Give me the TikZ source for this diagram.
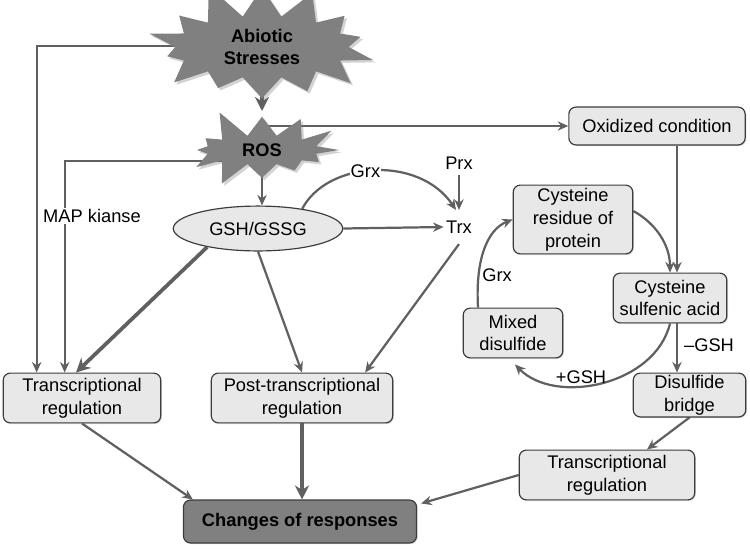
\documentclass[tikz,border=0pt]{standalone}
\usepackage{fontspec}
\setmainfont{Liberation Sans}
\usetikzlibrary{arrows.meta, shapes.symbols, shapes.geometric, shadows, backgrounds}

\definecolor{linegray}{RGB}{96,96,96}
\definecolor{boxfill}{RGB}{232,232,232}
\definecolor{boxdraw}{RGB}{60,60,60}
\definecolor{darkfill}{RGB}{128,128,128}

\begin{document}
\begin{tikzpicture}[x=0.03cm, y=-0.03cm,
	>={Stealth[length=9pt, width=8pt]},
	font=\fontsize{15.6}{19.5}\selectfont,
	box/.style={draw=boxdraw, line width=1pt, fill=boxfill, rounded corners=6pt,
		align=center, inner sep=1pt,
		drop shadow={opacity=0.3, shadow xshift=1pt, shadow yshift=-1pt}},
	burst/.style={starburst, fill=darkfill, align=center,
		font=\fontsize{15.6}{19.5}\selectfont\bfseries,
		drop shadow={opacity=0.35, shadow xshift=2pt, shadow yshift=-2pt}},
	link/.style={draw=linegray, line width=1.9pt, ->},
	biglink/.style={draw=linegray, line width=3.2pt, -{Stealth[length=12pt, width=12pt]}},
	lbl/.style={inner sep=1pt}
]
	\useasboundingbox (0,0) rectangle (750,549);

	% stresses and signals
	\node[burst, starburst points=14, starburst point height=32pt, random starburst=11,
		minimum width=212pt, minimum height=82pt] (abiotic) at (262,47) {Abiotic\\Stresses};
	\node[burst, starburst points=12, starburst point height=26pt, random starburst=5,
		minimum width=148pt, minimum height=68pt] (ros) at (262,150) {ROS};

	\node[ellipse, draw=boxdraw, line width=1pt, fill=boxfill,
		minimum width=144.6pt, minimum height=38.3pt] (gsh) at (258,228.5) {GSH/GSSG};
	\node[inner xsep=2pt, inner ysep=9pt] (trx) at (459,227) {Trx};
	\node[inner xsep=2pt, inner ysep=5pt] (prx) at (459,163) {Prx};
	\node[lbl, fill=white] (mapk) at (92,216) {MAP kianse};

	% regulation boxes
	\node[box, minimum width=134.4pt, minimum height=42.5pt] (tr1) at (82,398) {Transcriptional\\regulation};
	\node[box, minimum width=154.8pt, minimum height=42.5pt] (post) at (302,398) {Post-transcriptional\\regulation};
	\node[box, minimum width=149.7pt, minimum height=42.5pt] (tr2) at (607,475) {Transcriptional\\regulation};
	\node[box, fill=darkfill, font=\fontsize{15.6}{19.5}\selectfont\bfseries,
		minimum width=199pt, minimum height=36.6pt] (changes) at (300,521.5) {Changes of responses};

	% cysteine cycle
	\node[box, minimum width=150.5pt, minimum height=32.3pt] (oxid) at (657,126) {Oxidized condition};
	\node[box, minimum width=102pt, minimum height=58.7pt] (cysres) at (573,219.5) {Cysteine\\residue of\\protein};
	\node[box, minimum width=97pt, minimum height=42.5pt] (sulfenic) at (670,298) {Cysteine\\sulfenic acid};
	\node[box, minimum width=85pt, minimum height=42.5pt] (mixed) at (513,333) {Mixed\\disulfide};
	\node[box, minimum width=96pt, minimum height=37.4pt] (disulf) at (689.5,395) {Disulfide\\bridge};

	\node[lbl] (grxB) at (497,275) {Grx};
	\node[lbl] (pgsh) at (581,377) {+GSH};
	\node[lbl] (mgsh) at (709,345) {–GSH};

	\begin{scope}[on background layer]
		\draw[link] ([shift={(0,-1)}]abiotic.center) -| ([shift={(34,0)}]tr1.north west);
		\draw[link] ([shift={(0,11)}]ros.center) -| ([shift={(62,0)}]tr1.north west);
		\draw[biglink] (abiotic.center) -- ([shift={(0,-39)}]ros.center);
		\draw[link] (ros.center |- oxid.west) -- (oxid.west);
		\draw[link] (ros.center) -- (ros.center |- gsh.north);

		\draw[link] (gsh.24) .. controls +(25,-48) and +(-37,-55) .. ([shift={(-3,0)}]trx.north)
			node[pos=0.45, lbl, fill=white] (grxA) {Grx};
		\draw[link] (prx.south) -- (trx.north);
		\draw[link] (gsh.east) -- (trx.west);

		\draw[biglink] (gsh.200) -- ([shift={(-6,0)}]tr1.north);
		\draw[link] (gsh.south) -- (post.north);
		\draw[link] (trx.south) -- (post.22);

		\draw[link] (tr1.south) -- ([shift={(10,0)}]changes.north west);
		\draw[biglink] (post.south) -- (post.south |- changes.north);
		\draw[link] (tr2.west) -- ([shift={(4,4)}]changes.north east);

		\draw[link] ([shift={(20,0)}]oxid.south) -- ([shift={(20,0)}]oxid.south |- sulfenic.north);
		\draw[link] (cysres.8) .. controls +(22,12) and +(0,-28) .. (sulfenic.north);
		\draw[link] ([shift={(7,0)}]sulfenic.south) -- ([shift={(7,0)}]sulfenic.south |- disulf.north);
		\draw[link] (sulfenic.south) .. controls +(-15,62) and +(40,41) .. ([shift={(2,6)}]mixed.south);
		\draw[link] ([shift={(-35,0)}]mixed.north) .. controls +(-3,-53) and +(-23,9) .. (cysres.west);
		\draw[link] (disulf.south) -- ([shift={(40,0)}]tr2.north);
	\end{scope}
\end{tikzpicture}
\end{document}
